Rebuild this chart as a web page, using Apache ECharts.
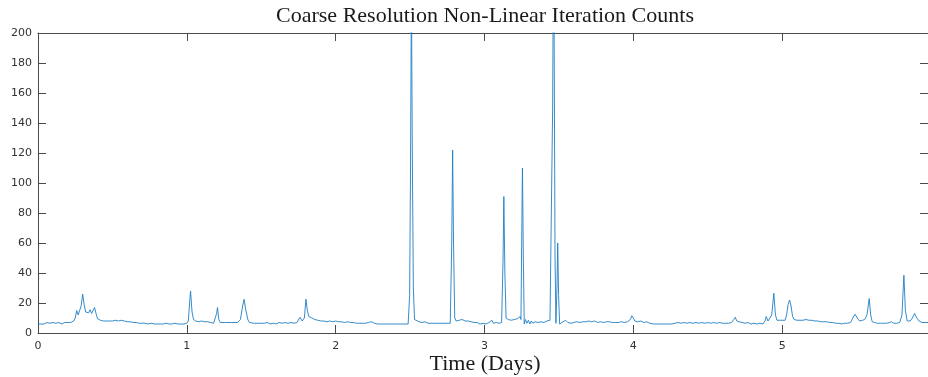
<!DOCTYPE html>
<html>
<head>
<meta charset="utf-8">
<script src="https://cdn.jsdelivr.net/npm/echarts@6/dist/echarts.min.js"></script>
<style>
html,body{margin:0;padding:0;background:#fff;}
#chart{width:928px;height:377px;}
</style>
</head>
<body>
<div id="chart"></div>
<script>
var titleText = 'Coarse Resolution Non-Linear Iteration Counts';
var xLabelText = 'Time (Days)';
var xTicks = [0, 1, 2, 3, 4, 5];
var yTicks = [0, 20, 40, 60, 80, 100, 120, 140, 160, 180, 200];

var times = [
0.00,0.01,0.02,0.03,0.04,0.05,0.06,0.07,0.08,0.09,0.10,0.11,0.12,0.13,0.14,0.15,0.16,0.17,0.18,0.19,0.20,0.21,0.22,0.23,0.24,
0.25,0.26,0.27,0.28,0.29,0.30,0.31,0.32,0.33,0.34,0.35,0.36,0.37,0.38,0.39,0.40,0.41,0.42,0.43,0.44,0.45,0.46,0.47,0.48,0.49,
0.50,0.52,0.54,0.56,0.58,0.60,0.62,0.64,0.66,0.68,0.69,0.70,0.72,0.74,0.76,0.78,0.80,0.82,0.84,0.86,0.88,0.90,0.92,0.94,0.96,0.98,
1.00,1.01,1.02,1.025,1.035,1.045,1.06,1.08,1.10,1.12,1.14,1.16,1.18,1.19,1.20,1.206,1.215,1.225,1.26,1.30,1.34,1.36,1.375,1.385,1.395,1.41,1.42,1.45,
1.50,1.51,1.52,1.54,1.56,1.58,1.60,1.62,1.64,1.66,1.68,1.70,1.72,1.74,1.76,1.775,1.79,1.80,1.81,1.82,1.83,1.84,1.86,1.88,1.90,1.92,1.94,1.96,1.98,
2.00,2.02,2.04,2.06,2.08,2.10,2.12,2.14,2.16,2.18,2.20,2.22,2.24,2.26,2.28,2.32,2.36,2.40,2.44,2.487,2.497,2.503,2.509,2.515,2.522,2.53,2.54,2.56,2.58,
2.60,2.62,2.66,2.70,2.74,2.77,2.78,2.786,2.792,2.80,2.81,2.83,2.85,2.87,2.89,2.91,2.93,2.95,2.97,2.99,
3.01,3.03,3.05,3.06,3.08,3.10,3.115,3.125,3.130,3.137,3.145,3.16,3.18,3.20,3.22,3.24,3.245,3.250,3.255,3.261,3.267,3.275,3.285,3.295,3.305,3.315,3.325,3.34,3.36,3.38,
3.40,3.42,3.44,3.452,3.458,3.462,3.468,3.474,3.48,3.487,3.492,3.498,3.505,3.52,3.53,3.545,3.56,3.58,3.60,3.62,3.64,3.66,3.68,3.70,3.72,3.74,3.76,3.78,3.80,3.82,3.84,3.86,3.88,3.90,3.92,3.94,3.96,3.98,3.99,
4.00,4.01,4.03,4.05,4.07,4.09,4.11,4.14,4.18,4.22,4.26,4.28,4.30,4.32,4.34,4.36,4.38,4.40,4.42,4.44,4.46,4.48,4.50,4.52,4.54,4.56,4.58,4.60,4.62,4.64,4.66,4.675,4.685,4.695,4.71,4.73,4.75,4.77,4.79,4.81,4.83,4.85,4.87,4.885,4.893,4.905,4.915,4.93,4.944,4.955,4.965,4.975,4.99,
5.00,5.02,5.03,5.04,5.05,5.06,5.07,5.08,5.10,5.12,5.14,5.16,5.18,5.20,5.22,5.24,5.26,5.28,5.30,5.32,5.34,5.36,5.38,5.40,5.42,5.44,5.46,5.475,5.49,5.505,5.52,5.54,5.555,5.57,5.585,5.595,5.605,5.62,5.64,5.66,5.68,5.70,5.72,5.735,5.75,5.77,5.79,5.805,5.818,5.828,5.84,5.86,5.875,5.89,5.905,5.92,5.94,5.96,5.98
];

var counts = [
6,6.5,6,7,6,6.5,7,6,6.5,6,7,6,6.5,6,7,6.5,6,6.5,7,6.5,7,6.5,7,7.5,8,
10,15,12,13,18,26,19,14,14.5,13.5,15.5,13,14,17,13,9.5,9,8.5,9,8,8.5,8,8.5,8,8.5,
8,8.5,8,8.5,8,7.5,7.5,7,7,6.5,7.5,6.5,6.5,6,6.5,6,6,6,6,6.5,6,6,6.5,6,6,6,
6.5,8,22,28,14,9,8,7.5,8,7.5,7.5,7,6.5,7,13,17,9,7,7,7,7,9,18,22.5,16,9,7,6.5,
6.5,7.5,6.5,7,6,6.5,6,7,6.5,7,6.5,7,6.5,7,10.5,8,10,22.5,15,11,12,10,9,8.5,8,8,7.5,8,7.5,
8,7.5,7.5,7,7.5,7,7,6.5,6.5,6.5,6.5,7,7.5,6.5,6,6,6,6,6,6,25,110,230,120,30,9,8,7.5,7,
7.5,6.5,6.5,6.5,6.5,6.5,60,122,60,10,8,8.5,9,8,8,7.5,7,7,6,6.5,
6,7,8.5,6.5,7,6.5,7,50,91,40,10,9,8.5,9,9.5,11,9,60,110,50,6,9,6.5,8.5,6,8,6.5,7.5,7,7.5,
7,8,8.5,8,150,230,200,50,6.5,30,60,25,6,7,7.5,8.5,7,6.5,7,7.5,7,7.5,7.5,8,7.5,8,7,7.5,7,7.5,7.5,7,7,7,7.5,7,7.5,9,11.5,
10,8,7.5,8,7,7.5,6.5,6,6,6,6,6.5,7,6.5,7,6.5,7,6.5,7,6.5,7,6.5,7,6.5,7,6.5,7,6.5,6.5,6.5,7,9,10.5,8,7.5,7,6.5,7,6,6.5,6,6.5,6,8,11,8,7.5,12,26.5,12,8.5,9.5,8.5,
9,8.5,12,19,22,18,11,9,8.5,8.5,8.5,9,8.5,8.5,8,8,7.5,7.5,7.5,7,7,6.5,6.5,6,6.5,6.5,7,10,12.5,10,8,8.5,9,12,23,12,7.5,7,6.5,6.5,6.5,6.5,7,7.5,6.5,6.5,7,12,38.5,15,8,8,10,13,10,8,7,7,7
];

var seriesData = times.map(function (t, i) { return [t, counts[i]]; });

var chart = echarts.init(document.getElementById('chart'), null, {renderer: 'canvas'});
var axisColor = '#4a4a4a';
var labelStyle = {color: '#333333', fontFamily: 'DejaVu Sans', fontSize: 11};
var xMax = 5.98;

function axisCommon() {
  return {
    axisLine: {show: true, onZero: false, lineStyle: {color: axisColor, width: 1}},
    axisTick: {show: true, inside: true, length: 8, lineStyle: {color: axisColor}},
    splitLine: {show: false}
  };
}

chart.setOption({
  animation: false,
  backgroundColor: '#ffffff',
  grid: {left: 38, top: 33, width: 890, height: 300, containLabel: false},
  xAxis: [
    Object.assign(axisCommon(), {
      type: 'value', position: 'bottom', min: 0, max: xMax, interval: 1,
      axisLabel: Object.assign({margin: 8, showMaxLabel: false, formatter: function (v) { return xTicks.indexOf(v) >= 0 ? String(v) : ''; }}, labelStyle)
    }),
    Object.assign(axisCommon(), {
      type: 'value', position: 'top', min: 0, max: xMax, interval: 1,
      axisLabel: {show: false}
    })
  ],
  yAxis: [
    Object.assign(axisCommon(), {
      type: 'value', position: 'left', min: 0, max: 200, interval: 20,
      axisLabel: Object.assign({margin: 6, formatter: function (v) { return yTicks.indexOf(v) >= 0 ? String(v) : ''; }}, labelStyle)
    }),
    Object.assign(axisCommon(), {
      type: 'value', position: 'right', min: 0, max: 200, interval: 20,
      axisLabel: {show: false}
    })
  ],
  series: [{
    type: 'line',
    xAxisIndex: 0,
    yAxisIndex: 0,
    data: seriesData,
    showSymbol: false,
    symbol: 'none',
    clip: true,
    lineStyle: {color: '#1f7fc4', width: 0.9},
    itemStyle: {color: '#1f7fc4'}
  }],
  graphic: [
    {type: 'text', x: 485, y: 16, style: {text: titleText, fill: '#1a1a1a', font: '22px "Liberation Serif"', textAlign: 'center', textVerticalAlign: 'middle'}},
    {type: 'text', x: 485, y: 364, style: {text: xLabelText, fill: '#1a1a1a', font: '22px "Liberation Serif"', textAlign: 'center', textVerticalAlign: 'middle'}}
  ]
});
</script>
</body>
</html>
